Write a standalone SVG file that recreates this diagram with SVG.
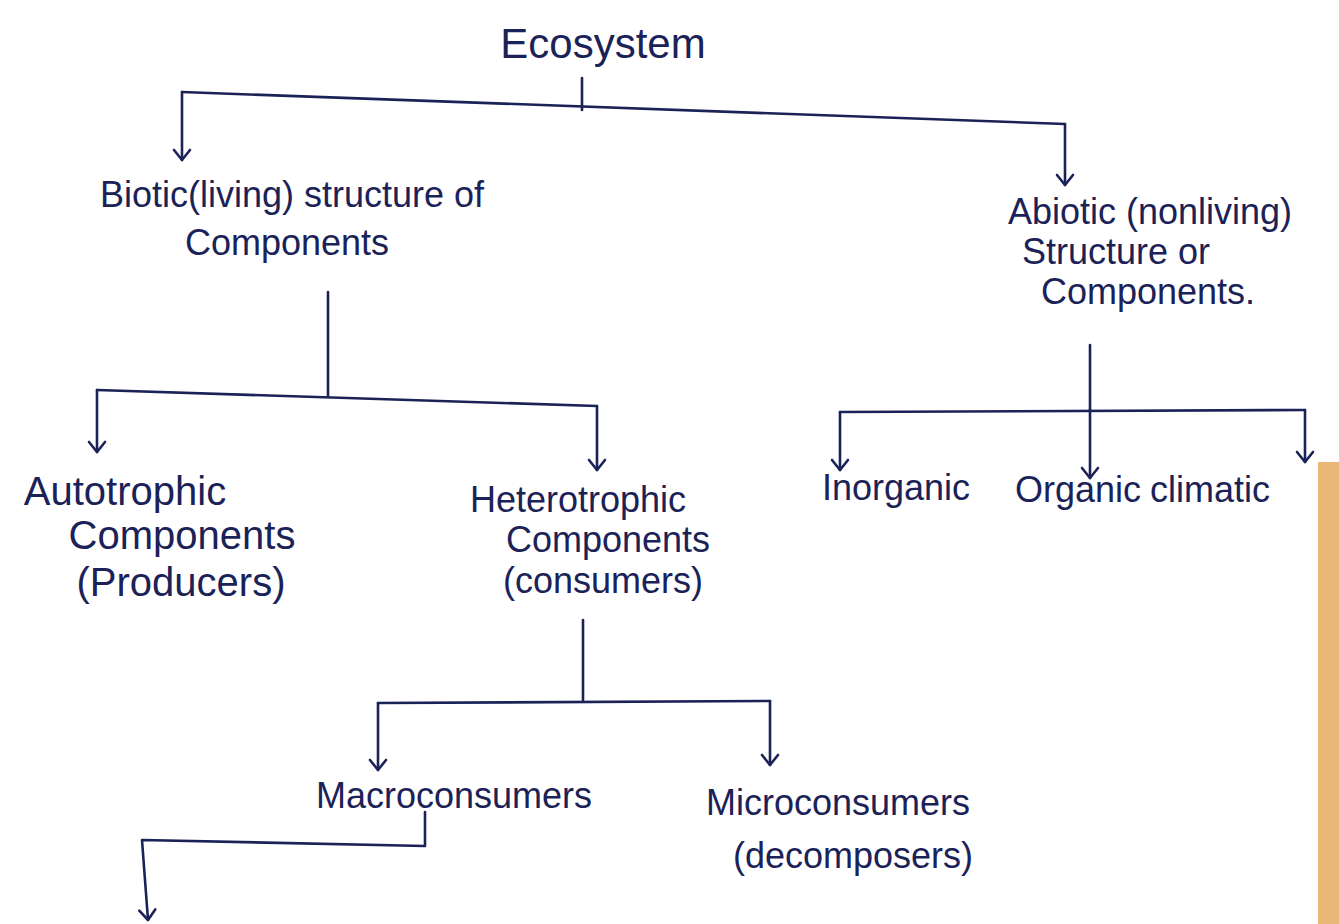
<svg xmlns="http://www.w3.org/2000/svg" width="1339" height="924" viewBox="0 0 1339 924">
<style>
.t{font-family:"Liberation Sans","DejaVu Sans",sans-serif;font-size:36px;fill:#1b2257;text-anchor:middle}
.big{font-size:42px}
.l{font-size:40px}
.c{fill:none;stroke:#1b2257;stroke-width:2.6;stroke-linecap:round;stroke-linejoin:round}
</style>
<defs>
<marker id="ah" viewBox="0 0 20 20" refX="18" refY="10" markerWidth="20" markerHeight="20" markerUnits="userSpaceOnUse" orient="auto">
<path d="M8 2 L18 10 L8 18" fill="none" stroke="#1b2257" stroke-width="2.6" stroke-linecap="round" stroke-linejoin="round"/>
</marker>
</defs>
<rect width="1339" height="924" fill="#ffffff"/>
<rect x="1318" y="462" width="21" height="462" fill="#e9b877"/>
<g id="connectors">
<path class="c" d="M582 78 L582 110"/>
<path class="c" d="M182 92 L1065 124"/>
<path class="c" d="M182 92 L182 160" marker-end="url(#ah)"/>
<path class="c" d="M1065 124 L1065 185" marker-end="url(#ah)"/>
<path class="c" d="M328 292 L328 396"/>
<path class="c" d="M97 390 L597 406"/>
<path class="c" d="M97 390 L97 452" marker-end="url(#ah)"/>
<path class="c" d="M597 406 L597 470" marker-end="url(#ah)"/>
<path class="c" d="M1090 345 L1090 410"/>
<path class="c" d="M840 412 L1305 410"/>
<path class="c" d="M840 412 L840 470" marker-end="url(#ah)"/>
<path class="c" d="M1090 410 L1090 478" marker-end="url(#ah)"/>
<path class="c" d="M1305 410 L1305 462" marker-end="url(#ah)"/>
<path class="c" d="M583 620 L583 700"/>
<path class="c" d="M378 703 L770 701"/>
<path class="c" d="M378 703 L378 770" marker-end="url(#ah)"/>
<path class="c" d="M770 701 L770 765" marker-end="url(#ah)"/>
<path class="c" d="M425 812 L425 846 L142 840 L148 920" marker-end="url(#ah)"/>
</g>
<g id="ecosystem"><text class="t big" x="603" y="58">Ecosystem</text></g>
<g id="biotic"><text class="t" x="292" y="207">Biotic(living) structure of</text><text class="t" x="287" y="255">Components</text></g>
<g id="abiotic"><text class="t" x="1150" y="224">Abiotic (nonliving)</text><text class="t" x="1116" y="264">Structure or</text><text class="t" x="1148" y="304">Components.</text></g>
<g id="autotrophic"><text class="t l" x="125" y="505">Autotrophic</text><text class="t l" x="182" y="549">Components</text><text class="t l" x="181" y="596">(Producers)</text></g>
<g id="heterotrophic"><text class="t" x="578" y="512">Heterotrophic</text><text class="t" x="608" y="552">Components</text><text class="t" x="603" y="593">(consumers)</text></g>
<g id="inorganic"><text class="t" x="896" y="500">Inorganic</text></g>
<g id="organic"><text class="t" x="1078" y="502">Organic</text></g>
<g id="climatic"><text class="t" x="1150" y="502" style="text-anchor:start">climatic</text></g>
<g id="macroconsumers"><text class="t" x="454" y="808">Macroconsumers</text></g>
<g id="microconsumers"><text class="t" x="838" y="815">Microconsumers</text><text class="t" x="853" y="868">(decomposers)</text></g>
</svg>
